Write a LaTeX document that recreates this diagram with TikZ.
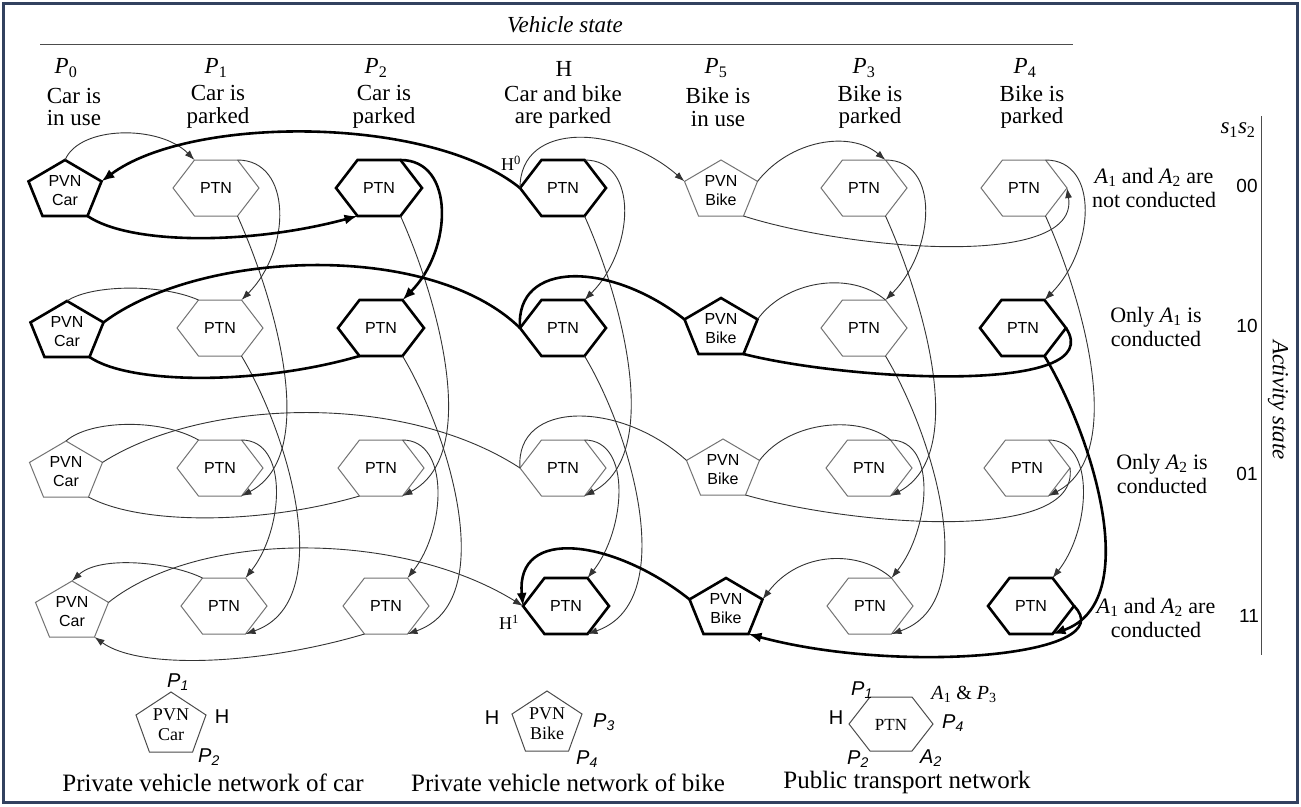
\documentclass[tikz,border=0pt]{standalone}
\usepackage{fontspec}
\setmainfont{Liberation Serif}
\newfontfamily\arialf{Liberation Sans}
\usetikzlibrary{arrows.meta}
\definecolor{framecol}{RGB}{50,65,95}
\tikzset{
  thinedge/.style={draw=black!80, line width=0.9pt},
  thickedge/.style={draw=black, line width=2.6pt},
  tipthin/.style={-{Latex[length=10pt,width=7pt]}},
  tipthick/.style={-{Latex[length=13pt,width=10pt]}},
  thinshape/.style={draw=black!55, line width=1pt},
  thickshape/.style={draw=black, line width=2.6pt},
  legshape/.style={draw=black!70, line width=1pt},
  ptnlabel/.style={font=\arialf\fontsize{16}{19}\selectfont, inner sep=0pt},
  pvnlabel/.style={font=\arialf\fontsize{16}{19}\selectfont, align=center, inner sep=0pt},
  head/.style={font=\fontsize{23}{22.5}\selectfont, align=center, inner sep=0pt},
  rlabel/.style={font=\fontsize{22}{24}\selectfont, align=center, inner sep=0pt},
  codelabel/.style={font=\arialf\fontsize{19}{19}\selectfont, inner sep=0pt},
  leglabel/.style={font=\arialf\fontsize{20}{20}\selectfont, inner sep=0pt},
  caption/.style={font=\fontsize{25}{25}\selectfont, inner sep=0pt},
  legtext/.style={font=\fontsize{18}{20}\selectfont, align=center, inner sep=0pt},
}
% hexagon node: name, x, y, style
\newcommand\hexN[4]{%
  \node[ptnlabel] (#1) at (#2,#3) {PTN};
  \coordinate (#1-L) at (#2-43,#3);
  \coordinate (#1-TL) at (#2-21.5,#3-28);
  \coordinate (#1-TR) at (#2+21.5,#3-28);
  \coordinate (#1-R) at (#2+43,#3);
  \coordinate (#1-BR) at (#2+21.5,#3+28);
  \coordinate (#1-BL) at (#2-21.5,#3+28);
  \draw[#4] (#1-L) -- (#1-TL) -- (#1-TR) -- (#1-R) -- (#1-BR) -- (#1-BL) -- cycle;
}
% pentagon node: name, x, y, style, text
\newcommand\pentN[5]{%
  \node[pvnlabel] (#1) at (#2,#3+3) {#5};
  \coordinate (#1-T) at (#2,#3-28);
  \coordinate (#1-UR) at (#2+36.5,#3-6.6);
  \coordinate (#1-LR) at (#2+22.5,#3+28);
  \coordinate (#1-LL) at (#2-22.5,#3+28);
  \coordinate (#1-UL) at (#2-36.5,#3-6.6);
  \draw[#4] (#1-T) -- (#1-UR) -- (#1-LR) -- (#1-LL) -- (#1-UL) -- cycle;
}
% activity transitions in one PTN column
\newcommand\coledges[5]{%
  \draw[#2] (#1a-TR) .. controls +(55,0) and +(50,-50) .. (#1b-TR);
  \draw[#3] (#1a-BR) .. controls +(36,80) and +(80,-42) .. (#1c-BR);
  \draw[#4] (#1b-BR) .. controls +(48,80) and +(92,-32) .. (#1d-BR);
  \draw[#5] (#1c-TR) .. controls +(48,0) and +(38,-48) .. (#1d-TR);
}
\newcommand\sP[1]{\textit{P}\textsubscript{#1}}
\newcommand\aP[1]{{\arialf\itshape P\textsubscript{#1}}}
\newcommand\aA[1]{{\arialf\itshape A\textsubscript{#1}}}
\begin{document}
\begin{tikzpicture}[x=1pt,y=-1pt]
\useasboundingbox (0,0) rectangle (1301,806);
\fill[white] (0,0) rectangle (1301,806);
\draw[framecol, line width=2.5pt] (3.5,3.5) rectangle (1297.5,802.5);

% headers
\node[head, font=\itshape\fontsize{23}{22}\selectfont] (vs) at (565,25) {Vehicle state};
\coordinate (vsl) at (40,44); \coordinate (vsr) at (1073,44);
\draw[black!70, line width=0.8pt] (vsl) -- (vsr);
\node[head] (hp0) at (66,68) {\sP{0}};
\node[head] (hd0) at (74,107) {Car is\\in use};
\node[head] (hp1) at (216,68) {\sP{1}};
\node[head] (hd1) at (218,107) {Car is\\parked};
\node[head] (hp2) at (376,68) {\sP{2}};
\node[head] (hd2) at (384,107) {Car is\\parked};
\node[head] (hph) at (564,69) {H};
\node[head] (hdh) at (563,107) {Car and bike\\are parked};
\node[head] (hp5) at (716,68) {\sP{5}};
\node[head] (hd5) at (718,107) {Bike is\\in use};
\node[head] (hp3) at (864,68) {\sP{3}};
\node[head] (hd3) at (870,107) {Bike is\\parked};
\node[head] (hp4) at (1025,68) {\sP{4}};
\node[head] (hd4) at (1032,107) {Bike is\\parked};

% right side
\node[head] (s12) at (1238,130) {\textit{s}\textsubscript{1}\textit{s}\textsubscript{2}};
\coordinate (rlt) at (1261,116); \coordinate (rlb) at (1261,655);
\draw[black!70, line width=0.8pt] (rlt) -- (rlb);
\node[rlabel] (ra) at (1154,188) {\textit{A}\textsubscript{1} and \textit{A}\textsubscript{2} are\\not conducted};
\node[rlabel] (rb) at (1156,327) {Only \textit{A}\textsubscript{1} is\\conducted};
\node[rlabel] (rc) at (1162,474) {Only \textit{A}\textsubscript{2} is\\conducted};
\node[rlabel] (rd) at (1156,618) {\textit{A}\textsubscript{1} and \textit{A}\textsubscript{2} are\\conducted};
\node[codelabel] (ca) at (1247,186) {00};
\node[codelabel] (cb) at (1247,326) {10};
\node[codelabel] (cc) at (1247,474) {01};
\node[codelabel] (cd) at (1249,616) {11};
\node[head, font=\itshape\fontsize{23}{22}\selectfont, rotate=-90] (act) at (1278,400) {Activity state};

% nodes row 00
\pentN{cara}{65}{188}{thickshape}{PVN\\Car}
\hexN{p1a}{216}{188}{thinshape}
\hexN{p2a}{379}{188}{thickshape}
\hexN{ha}{563}{188}{thickshape}
\pentN{bikea}{721}{188}{thinshape}{PVN\\Bike}
\hexN{p3a}{864}{188}{thinshape}
\hexN{p4a}{1024}{188}{thinshape}
% row 10
\pentN{carb}{67}{329}{thickshape}{PVN\\Car}
\hexN{p1b}{220}{328}{thinshape}
\hexN{p2b}{381}{328}{thickshape}
\hexN{hb}{563}{328}{thickshape}
\pentN{bikeb}{721}{326}{thickshape}{PVN\\Bike}
\hexN{p3b}{864}{328}{thinshape}
\hexN{p4b}{1023}{328}{thickshape}
% row 01
\pentN{carc}{66}{469}{thinshape}{PVN\\Car}
\hexN{p1c}{220}{468}{thinshape}
\hexN{p2c}{381}{468}{thinshape}
\hexN{hc}{563}{468}{thinshape}
\pentN{bikec}{723}{467}{thinshape}{PVN\\Bike}
\hexN{p3c}{869}{468}{thinshape}
\hexN{p4c}{1027}{468}{thinshape}
% row 11
\pentN{card}{72}{609}{thinshape}{PVN\\Car}
\hexN{p1d}{224}{606}{thinshape}
\hexN{p2d}{386}{606}{thinshape}
\hexN{hd}{566}{606}{thickshape}
\pentN{biked}{726}{606}{thickshape}{PVN\\Bike}
\hexN{p3d}{870}{606}{thinshape}
\hexN{p4d}{1031}{606}{thickshape}

\node[font=\fontsize{18}{18}\selectfont, inner sep=0pt] (hzero) at (511,163) {H\textsuperscript{0}};
\node[font=\fontsize{18}{18}\selectfont, inner sep=0pt] (hone) at (509,622) {H\textsuperscript{1}};

% column transitions
\coledges{p1}{thinedge,tipthin}{thinedge,tipthin}{thinedge,tipthin}{thinedge,tipthin}
\coledges{p2}{thickedge,tipthick}{thinedge,tipthin}{thinedge,tipthin}{thinedge,tipthin}
\coledges{h}{thinedge,tipthin}{thinedge,tipthin}{thinedge,tipthin}{thinedge,tipthin}
\coledges{p3}{thinedge,tipthin}{thinedge,tipthin}{thinedge,tipthin}{thinedge,tipthin}
\coledges{p4}{thinedge,tipthin}{thinedge,tipthin}{thickedge,tipthick}{thinedge,tipthin}

% row 00
\draw[thinedge,tipthin] (cara-T) .. controls +(15,-35) and +(-34.5,-35) .. (p1a-TL);
\draw[thickedge,tipthick] (ha-L) .. controls +(-90,-73) and +(88.5,-66.4) .. (cara-UR);
\draw[thickedge,tipthick] (cara-LR) .. controls +(42.5,29) and +(-107.5,29) .. (p2a-BL);
\draw[thinedge,tipthin] (ha-L) .. controls +(0,-68) and +(-64.5,-56.4) .. (bikea-UL);
\draw[thinedge,tipthin] (bikea-UR) .. controls +(32.5,-41.4) and +(-35.5,-30) .. (p3a-TR);
\draw[thinedge,tipthin] (bikea-LR) .. controls +(106.5,34) and +(13,82) .. (p4a-R);
% row 10
\draw[thinedge] (carb-T) .. controls +(23,-16) and +(-38.5,-17) .. (p1b-TL);
\draw[thickedge] (carb-UR) .. controls +(96.5,-72.4) and +(-90,-88) .. (hb-L);
\draw[thickedge] (carb-LR) .. controls +(40.5,28) and +(-99.5,29) .. (p2b-BL);
\draw[thickedge] (hb-L) .. controls +(-5,-68) and +(-74.5,-58.4) .. (bikeb-UL);
\draw[thinedge] (bikeb-UR) .. controls +(27.5,-38.4) and +(-35.5,-30) .. (p3b-TR);
\draw[thickedge] (bikeb-LR) .. controls +(106.5,27) and +(44,67) .. (p4b-R);
% row 01
\draw[thinedge] (carc-T) .. controls +(24,-21) and +(-38.5,-22) .. (p1c-TL);
\draw[thinedge] (carc-UR) .. controls +(97.5,-62.4) and +(-120,-78) .. (hc-L);
\draw[thinedge] (carc-LR) .. controls +(51.5,28) and +(-99.5,29) .. (p2c-BL);
\draw[thinedge] (hc-L) .. controls +(-5,-68) and +(-66.5,-60.4) .. (bikec-UL);
\draw[thinedge] (bikec-UR) .. controls +(30.5,-40.4) and +(-30.5,-25) .. (p3c-TR);
\draw[thinedge] (bikec-LR) .. controls +(104.5,30) and +(10,77) .. (p4c-R);
% row 11
\draw[thinedge,tipthin] (p1d-TL) .. controls +(-32.5,-16) and +(28,-26) .. (card-T);
\draw[thinedge,tipthin] (p2d-BL) .. controls +(-104.5,31) and +(45.5,33) .. (card-LR);
\draw[thinedge,tipthin] (card-UR) .. controls +(91.5,-72.4) and +(-123,-76) .. (hd-L);
\draw[thickedge,tipthick] (biked-UL) .. controls +(-74.5,-59.4) and +(-8,-81) .. (hd-L);
\draw[thinedge,tipthin] (p3d-TR) .. controls +(-31.5,-28) and +(37.5,-49.4) .. (biked-UR);
\draw[thickedge,tipthick] (p4d-R) .. controls +(50,50) and +(151.5,41) .. (biked-LR);

% legend: car
\node[legtext] (lcar) at (171,725) {PVN\\Car};
\coordinate (lc-T) at (171,692); \coordinate (lc-UR) at (206,715);
\coordinate (lc-LR) at (192.6,752); \coordinate (lc-LL) at (149.4,752);
\coordinate (lc-UL) at (136,715);
\draw[legshape] (lc-T) -- (lc-UR) -- (lc-LR) -- (lc-LL) -- (lc-UL) -- cycle;
\node[leglabel] (lcp1) at (178,682) {\aP{1}};
\node[leglabel] (lch) at (222,717) {H};
\node[leglabel] (lcp2) at (209,757) {\aP{2}};
\node[caption] (capcar) at (213,783) {Private vehicle network of car};
% legend: bike
\node[legtext] (lbike) at (547,724) {PVN\\Bike};
\coordinate (lb-T) at (547,691); \coordinate (lb-UR) at (582,714);
\coordinate (lb-LR) at (568.6,751); \coordinate (lb-LL) at (525.4,751);
\coordinate (lb-UL) at (512,714);
\draw[legshape] (lb-T) -- (lb-UR) -- (lb-LR) -- (lb-LL) -- (lb-UL) -- cycle;
\node[leglabel] (lbh) at (492,718) {H};
\node[leglabel] (lbp3) at (604,722) {\aP{3}};
\node[leglabel] (lbp4) at (587,759) {\aP{4}};
\node[caption] (capbike) at (568,783) {Private vehicle network of bike};
% legend: PTN
\node[legtext, font=\fontsize{17}{17}\selectfont] (lptn) at (891,725) {PTN};
\coordinate (lp-L) at (849,724); \coordinate (lp-TL) at (870,697);
\coordinate (lp-TR) at (912,697); \coordinate (lp-R) at (933,724);
\coordinate (lp-BR) at (912,751); \coordinate (lp-BL) at (870,751);
\draw[legshape] (lp-L) -- (lp-TL) -- (lp-TR) -- (lp-R) -- (lp-BR) -- (lp-BL) -- cycle;
\node[leglabel] (lpp1) at (862,690) {\aP{1}};
\node[leglabel, font=\fontsize{20}{20}\selectfont] (lpa1) at (964,694) {\textit{A}\textsubscript{1} \& \textit{P}\textsubscript{3}};
\node[leglabel] (lph) at (836,718) {H};
\node[leglabel] (lpp4) at (953,723) {\aP{4}};
\node[leglabel] (lpp2) at (858,759) {\aP{2}};
\node[leglabel] (lpa2) at (931,758) {\aA{2}};
\node[caption] (capptn) at (907,782) {Public transport network};
\end{tikzpicture}
\end{document}
